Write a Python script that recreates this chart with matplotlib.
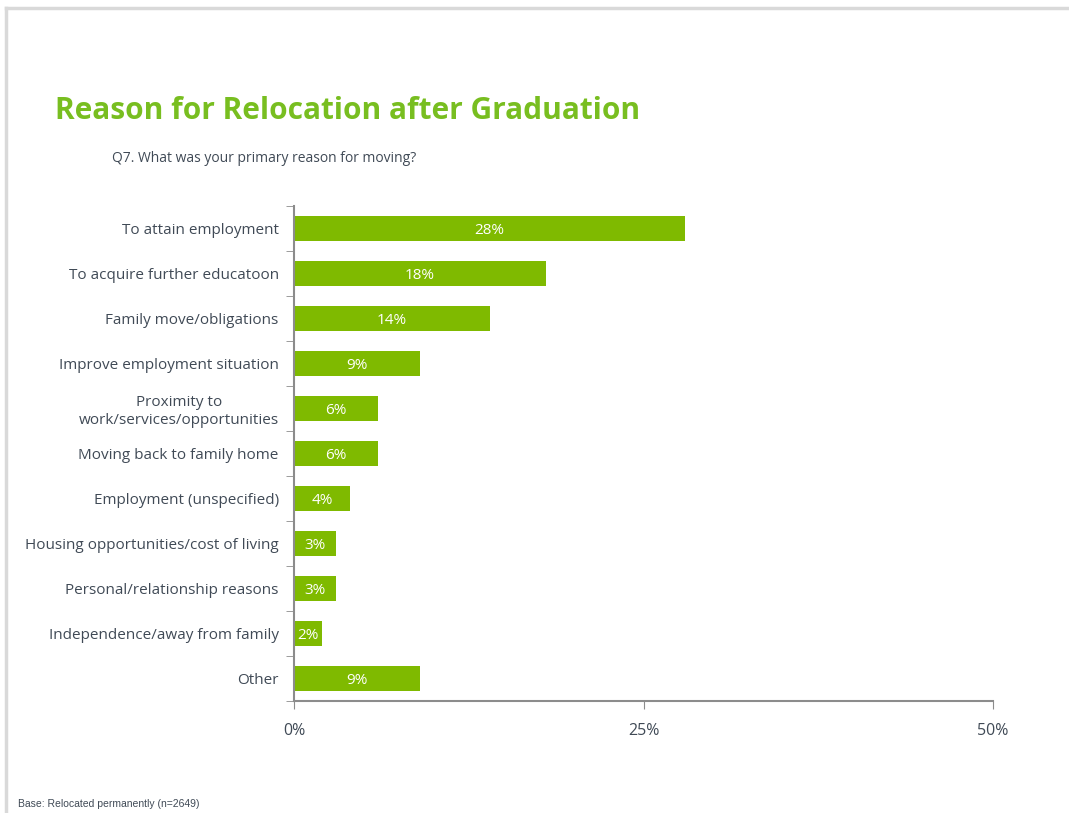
import matplotlib.pyplot as plt
from matplotlib.lines import Line2D
import numpy as np

# data
reasons = [
    "To attain employment",
    "To acquire further educatoon",
    "Family move/obligations",
    "Improve employment situation",
    "Proximity to\nwork/services/opportunities",
    "Moving back to family home",
    "Employment (unspecified)",
    "Housing opportunities/cost of living",
    "Personal/relationship reasons",
    "Independence/away from family",
    "Other",
]
percents = [28, 18, 14, 9, 6, 6, 4, 3, 3, 2, 9]
x_ticks = [0, 25, 50]
x_tick_labels = ["0%", "25%", "50%"]

bar_green = "#7FBA00"
title_green = "#78BE20"
text_gray = "#404A56"
axis_gray = "#8C8C8C"

plt.rcParams["font.family"] = ["Open Sans", "DejaVu Sans"]

fig = plt.figure(figsize=(10.69, 8.13), dpi=100)
ax = fig.add_axes([0.275, 0.1378, 0.654, 0.6088])

y_pos = np.arange(len(reasons))
ax.barh(y_pos, percents, height=0.55, color=bar_green, edgecolor="none")

# value labels, sitting slightly below bar centre like the original
for y, v in zip(y_pos, percents):
    ax.text(v / 2, y + 0.05, f"{v}%", ha="center", va="center", color="white", fontsize=11)

ax.set_xlim(0, 50)
ax.set_ylim(len(reasons) - 0.5, -0.5)

ax.set_yticks(y_pos)
ax.set_yticklabels(reasons, fontsize=11, color=text_gray, multialignment="center")
ax.set_yticks(np.arange(-0.5, len(reasons)), minor=True)
ax.tick_params(axis="y", which="major", length=0, pad=11)
ax.tick_params(axis="y", which="minor", length=6, color=axis_gray, direction="out")

ax.set_xticks(x_ticks)
ax.set_xticklabels(x_tick_labels, fontsize=11.5, color=text_gray)
ax.tick_params(axis="x", length=6, color=axis_gray, direction="out", pad=10)

for side in ["top", "right"]:
    ax.spines[side].set_visible(False)
for side in ["left", "bottom"]:
    ax.spines[side].set_color(axis_gray)
    ax.spines[side].set_linewidth(1.5)

# title and notes
fig.text(0.0515, 0.864, "Reason for Relocation after Graduation", fontsize=21.5,
         fontweight="bold", color=title_green, va="center")
fig.text(0.105, 0.805, "Q7. What was your primary reason for moving?", fontsize=10,
         color=text_gray, va="center")
fig.text(0.017, 0.011, "Base: Relocated permanently (n=2649)", fontsize=7.5,
         color=text_gray, family="Liberation Sans", va="center")

# slide border
fig.add_artist(Line2D([0.006, 1.0], [0.990, 0.990], transform=fig.transFigure,
                      color="#D9D9D9", linewidth=2.5))
fig.add_artist(Line2D([0.006, 0.006], [0.0, 0.990], transform=fig.transFigure,
                      color="#D9D9D9", linewidth=2.5))

fig.savefig("out.png", dpi=100, facecolor="white")
